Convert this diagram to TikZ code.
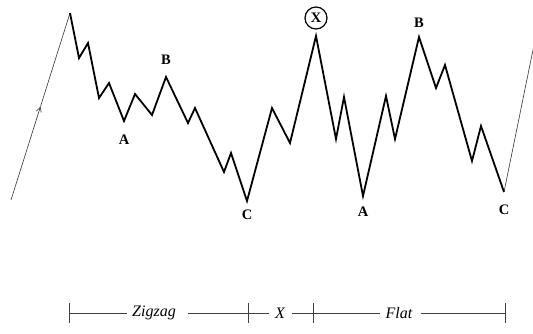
\documentclass[tikz,border=0pt]{standalone}
\usepackage{fontspec}
\setmainfont{Liberation Serif}
\usetikzlibrary{arrows.meta,calc}
\begin{document}
\begin{tikzpicture}[x=1pt,y=-1pt,
  wave/.style={line width=1.8pt,line join=miter,black},
  thinline/.style={line width=0.6pt,black!80},
  lbl/.style={font=\bfseries\fontsize{14.5}{14.5}\selectfont},
  axis/.style={line width=0.7pt,black!75},
  axlbl/.style={font=\itshape\fontsize{16}{16}\selectfont,inner sep=0pt}]
\useasboundingbox (0,0) rectangle (533,333);
% points
\coordinate (s0) at (11,200);
\coordinate (p0) at (70,13);
\coordinate (a1) at (79,58);
\coordinate (a2) at (88,43);
\coordinate (a3) at (99,98);
\coordinate (a4) at (109,83);
\coordinate (A1) at (124,121);
\coordinate (b1) at (135,94);
\coordinate (b2) at (152,115);
\coordinate (B1) at (166,77);
\coordinate (c1) at (188,123);
\coordinate (c2) at (195,108);
\coordinate (c3) at (224,172);
\coordinate (c4) at (231,153);
\coordinate (C1) at (247,201);
\coordinate (x1) at (272,108);
\coordinate (x2) at (290,143);
\coordinate (X) at (316,36);
\coordinate (d1) at (336,139);
\coordinate (d2) at (344,97);
\coordinate (A2) at (363,196);
\coordinate (e1) at (386,96);
\coordinate (e2) at (395,139);
\coordinate (B2) at (419,37);
\coordinate (f1) at (436,88);
\coordinate (f2) at (445,65);
\coordinate (f3) at (472,161);
\coordinate (f4) at (481,126);
\coordinate (C2) at (504,192);
\coordinate (end) at (535,40);
% thin lead-in with arrow
\coordinate (mid) at ($(s0)!0.5!(p0)$);
\draw[thinline,-{Straight Barb[length=5pt,width=5pt]}] (s0) -- (mid);
\draw[thinline] (mid) -- (p0);
% wave
\draw[wave] (p0) -- (a1) -- (a2) -- (a3) -- (a4) -- (A1) -- (b1) -- (b2) -- (B1)
  -- (c1) -- (c2) -- (c3) -- (c4) -- (C1) -- (x1) -- (x2) -- (X) -- (d1) -- (d2)
  -- (A2) -- (e1) -- (e2) -- (B2) -- (f1) -- (f2) -- (f3) -- (f4) -- (C2);
\draw[thinline] (C2) -- (end);
% labels
\node[lbl] (lA1) at (124,140) {A};
\node[lbl] (lB1) at (166,60) {B};
\node[lbl] (lC1) at (247,215) {C};
\node[lbl,draw,circle,line width=1.2pt,inner sep=1pt,minimum size=22pt] (lX) at (316,18) {X};
\node[lbl] (lA2) at (363,212) {A};
\node[lbl] (lB2) at (419,23) {B};
\node[lbl] (lC2) at (504,210) {C};
% bottom axis
\coordinate (t0) at (69,313);
\coordinate (t1) at (248,313);
\coordinate (t2) at (313,313);
\coordinate (t3) at (505,313);
\node[axlbl] (zz) at (154,313) {Zigzag};
\node[axlbl] (xx) at (280,313) {X};
\node[axlbl] (fl) at (399,313) {Flat};
\draw[axis] (t0) -- ($(zz.west)+(-5,0)$);
\draw[axis] ($(zz.east)+(12,0)$) -- (t1);
\draw[axis] (t1) -- ($(xx.west)+(-6,0)$);
\draw[axis] ($(xx.east)+(7,0)$) -- (t2);
\draw[axis] (t2) -- ($(fl.west)+(-5,0)$);
\draw[axis] ($(fl.east)+(8,0)$) -- (t3);
\foreach \t in {t0,t1,t2,t3} \draw[axis] ($(\t)+(0,-10)$) -- ($(\t)+(0,10)$);
\end{tikzpicture}
\end{document}
